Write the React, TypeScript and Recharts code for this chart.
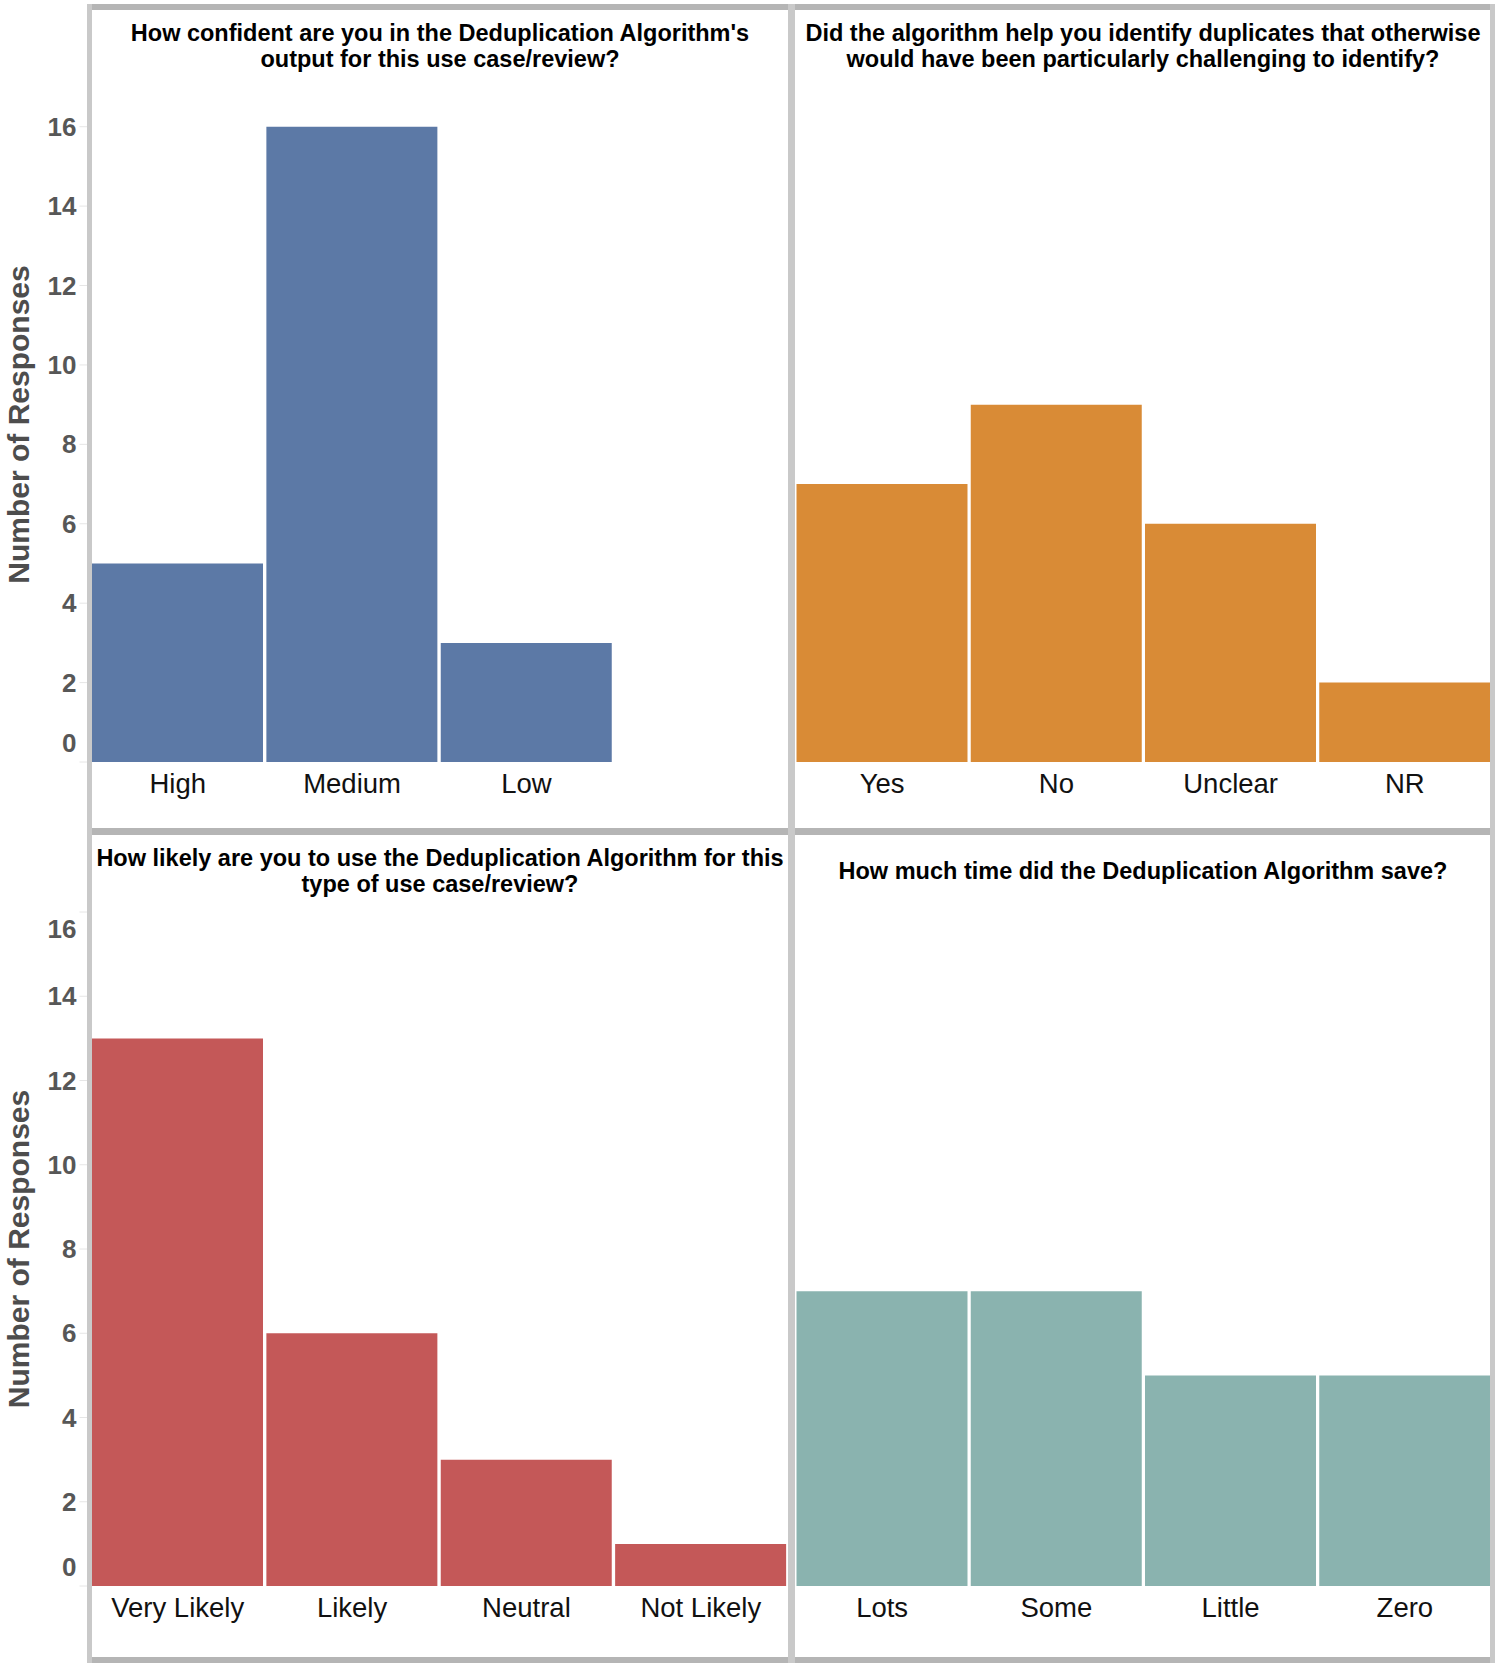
import React from 'react';
import { BarChart, Bar, XAxis, YAxis } from 'recharts';

// survey answers
const confidenceLabels = ['High', 'Medium', 'Low'];
const confidenceCounts = [5, 16, 3];

const helpLabels = ['Yes', 'No', 'Unclear', 'NR'];
const helpCounts = [7, 9, 6, 2];

const likelyLabels = ['Very Likely', 'Likely', 'Neutral', 'Not Likely'];
const likelyCounts = [13, 6, 3, 1];

const timeLabels = ['Lots', 'Some', 'Little', 'Zero'];
const timeCounts = [7, 7, 5, 5];

const yTicks = [0, 2, 4, 6, 8, 10, 12, 14, 16];

// every panel keeps four column slots, even when a question has fewer answers
const SLOTS = 4;

const FONT = '"Liberation Sans", Arial, Helvetica, sans-serif';

interface Row {
  label: string;
  value: number | null;
}

function buildRows(labels: string[], counts: number[]): Row[] {
  const rows: Row[] = [];
  for (let i = 0; i < SLOTS; i++) {
    rows.push({ label: labels[i] ?? '', value: counts[i] ?? null });
  }
  return rows;
}

function makeYTick(plotTop: number, plotBottom: number) {
  return function YTick(props: any) {
    const { x, y, payload } = props;
    // keep end labels inside the pane, like the original
    const cy = Math.min(Math.max(y, plotTop + 17), plotBottom - 19);
    return (
      <g>
        <line x1={x - 3} x2={x - 11} y1={y} y2={y} stroke="#e6e6e6" strokeWidth={1} />
        <text
          x={x - 14}
          y={cy}
          textAnchor="end"
          dominantBaseline="central"
          fontFamily={FONT}
          fontSize={26}
          fontWeight="bold"
          fill="#575757"
        >
          {payload.value}
        </text>
      </g>
    );
  };
}

function XTick(props: any) {
  const { x, y, payload } = props;
  return (
    <text
      x={x}
      y={y + 21}
      textAnchor="middle"
      dominantBaseline="central"
      fontFamily={FONT}
      fontSize={27.5}
      fill="#111"
    >
      {payload.value}
    </text>
  );
}

interface PanelProps {
  left: number;
  top: number;
  width: number;
  height: number;
  title: string[];
  rows: Row[];
  color: string;
  domainMax: number;
  xAxisHeight: number;
  showY: boolean;
}

const PLOT_OFFSET = 77;
const Y_AXIS_W = 90.5;

function Panel({ left, top, width, height, title, rows, color, domainMax, xAxisHeight, showY }: PanelProps) {
  const plotTop = PLOT_OFFSET;
  const plotBottom = height - xAxisHeight;
  const plotLeft = showY ? 92 : 0;
  const yTick = makeYTick(plotTop, plotBottom);

  return (
    <>
      <div
        style={{
          position: 'absolute',
          left: left + plotLeft,
          top,
          width: width - plotLeft,
          height: 72,
          display: 'flex',
          alignItems: 'center',
          justifyContent: 'center',
          textAlign: 'center',
          fontFamily: FONT,
          fontWeight: 'bold',
          fontSize: 23.5,
          lineHeight: '26.5px',
          color: '#000',
        }}
      >
        <div>
          {title.map((t) => (
            <div key={t}>{t}</div>
          ))}
        </div>
      </div>
      <div style={{ position: 'absolute', left, top }}>
        <BarChart
          width={width}
          height={height}
          data={rows}
          margin={{ top: PLOT_OFFSET, right: 0, bottom: 0, left: 0 }}
          barCategoryGap={1.5}
        >
          <XAxis
            dataKey="label"
            height={xAxisHeight}
            axisLine={false}
            tickLine={false}
            tickSize={0}
            tickMargin={0}
            interval={0}
            tick={<XTick />}
          />
          <YAxis
            hide={!showY}
            width={Y_AXIS_W}
            domain={[0, domainMax]}
            ticks={yTicks}
            axisLine={false}
            tickLine={false}
            tickSize={0}
            tickMargin={0}
            interval={0}
            tick={yTick}
            label={{
              content: () => (
                <text
                  x={18}
                  y={(plotTop + plotBottom) / 2}
                  transform={`rotate(-90, 18, ${(plotTop + plotBottom) / 2})`}
                  textAnchor="middle"
                  dominantBaseline="central"
                  fontFamily={FONT}
                  fontSize={30}
                  fontWeight="bold"
                  fill="#4d4d4d"
                >
                  Number of Responses
                </text>
              ),
            }}
          />
          <Bar dataKey="value" fill={color} isAnimationActive={false} />
        </BarChart>
      </div>
    </>
  );
}

const LIGHT = '#c9c9c9';
const DARK = '#b5b5b5';

function Line({ left, top, width, height, color }: { left: number; top: number; width: number; height: number; color: string }) {
  return <div style={{ position: 'absolute', left, top, width, height, background: color }} />;
}

export default function App() {
  return (
    <div
      style={{
        position: 'absolute',
        left: 0,
        top: 0,
        width: 1499,
        height: 1667,
        background: '#fff',
        overflow: 'hidden',
      }}
    >
      <Panel
        left={0}
        top={10}
        width={788}
        height={818}
        title={["How confident are you in the Deduplication Algorithm's", 'output for this use case/review?']}
        rows={buildRows(confidenceLabels, confidenceCounts)}
        color="#5c79a6"
        domainMax={17}
        xAxisHeight={66}
        showY
      />
      <Panel
        left={794.5}
        top={10}
        width={697}
        height={818}
        title={['Did the algorithm help you identify duplicates that otherwise', 'would have been particularly challenging to identify?']}
        rows={buildRows(helpLabels, helpCounts)}
        color="#d98b36"
        domainMax={17}
        xAxisHeight={66}
        showY={false}
      />
      <Panel
        left={0}
        top={835}
        width={788}
        height={822}
        title={['How likely are you to use the Deduplication Algorithm for this', 'type of use case/review?']}
        rows={buildRows(likelyLabels, likelyCounts)}
        color="#c45858"
        domainMax={16}
        xAxisHeight={71}
        showY
      />
      <Panel
        left={794.5}
        top={835}
        width={697}
        height={822}
        title={['How much time did the Deduplication Algorithm save?']}
        rows={buildRows(timeLabels, timeCounts)}
        color="#8ab3af"
        domainMax={16}
        xAxisHeight={71}
        showY={false}
      />

      {/* pane borders */}
      <Line left={87} top={4} width={1408} height={6} color={DARK} />
      <Line left={87} top={828} width={1408} height={7} color={DARK} />
      <Line left={87} top={1657} width={1408} height={6} color={DARK} />
      <Line left={87} top={4} width={5} height={1659} color={LIGHT} />
      <Line left={788} top={4} width={7} height={1659} color={LIGHT} />
      <Line left={1490} top={4} width={5} height={1659} color={LIGHT} />
    </div>
  );
}
